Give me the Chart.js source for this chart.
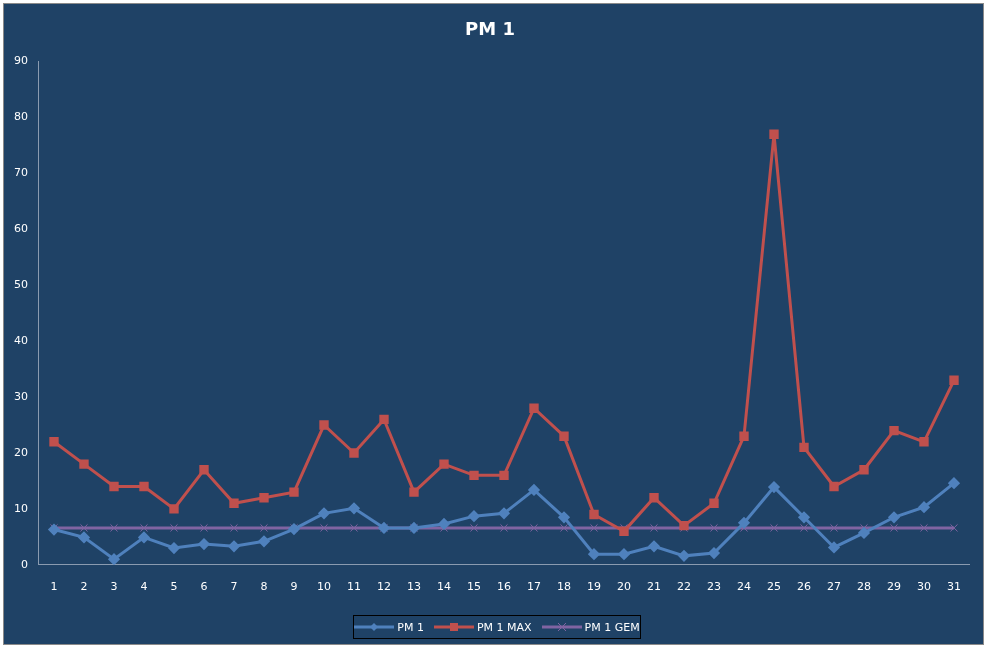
<!DOCTYPE html>
<html>
<head>
<meta charset="utf-8">
<script src="https://cdn.jsdelivr.net/npm/chart.js@4/dist/chart.umd.min.js"></script>
<style>
html, body { margin: 0; padding: 0; background: #ffffff; }
#wrap { position: absolute; left: 3px; top: 3px; width: 979px; height: 640px; background: #1f4266; border: 1px solid #8a8a8a; }
#legendBox { position: absolute; left: 349px; top: 611px; width: 286px; height: 22px; border: 1px solid #000; display: flex; align-items: center; justify-content: center; gap: 10px; color: #fff; font: 11px 'DejaVu Sans'; }
#legendBox span { display: flex; align-items: center; gap: 3px; }
</style>
</head>
<body>
<div id="wrap"><canvas id="pmChart"></canvas><div id="legendBox"></div></div>
<script>
// dagen en meetwaarden
const days = ['1','2','3','4','5','6','7','8','9','10','11','12','13','14','15','16','17','18','19','20','21','22','23','24','25','26','27','28','29','30','31'];
const pm1 = [6.3,4.9,1.0,4.9,3.0,3.7,3.3,4.2,6.4,9.2,10.1,6.6,6.6,7.3,8.7,9.2,13.4,8.5,1.9,1.9,3.3,1.6,2.1,7.5,13.9,8.5,3.1,5.7,8.5,10.3,14.6];
const pm1Max = [22,18,14,14,10,17,11,12,13,25,20,26,13,18,16,16,28,23,9,6,12,7,11,23,77,21,14,17,24,22,33];
const pm1Gem = days.map(() => 6.6);

const txt = '#ffffff';
const font = { family: 'DejaVu Sans', size: 11 };

// eigen legenda, zoals in Excel: lijn met marker
const markers = {
    'PM 1': { color: '#4f81bd', shape: '<polygon points="20,1 24,5 20,9 16,5" fill="#4f81bd"/>' },
    'PM 1 MAX': { color: '#c0504d', shape: '<rect x="16" y="1" width="8" height="8" fill="#c0504d"/>' },
    'PM 1 GEM': { color: '#8064a2', shape: '<path d="M16,1 L24,9 M24,1 L16,9" stroke="#8064a2" stroke-width="1"/>' }
};
const legendBox = document.getElementById('legendBox');
Object.keys(markers).forEach(name => {
    const m = markers[name];
    const item = document.createElement('span');
    item.innerHTML = '<svg width="40" height="10"><line x1="0" y1="5" x2="40" y2="5" stroke="' + m.color + '" stroke-width="3"/>' + m.shape + '</svg>' + name;
    legendBox.appendChild(item);
});

new Chart(document.getElementById('pmChart'), {
    type: 'line',
    data: {
        labels: days,
        datasets: [
            { label: 'PM 1', data: pm1, borderColor: '#4f81bd', backgroundColor: '#4f81bd', borderWidth: 3, pointStyle: 'rectRot', pointRadius: 4, tension: 0 },
            { label: 'PM 1 MAX', data: pm1Max, borderColor: '#c0504d', backgroundColor: '#c0504d', borderWidth: 3, pointStyle: 'rect', pointRadius: 4.5, tension: 0 },
            { label: 'PM 1 GEM', data: pm1Gem, borderColor: '#8064a2', backgroundColor: '#8064a2', borderWidth: 3, pointStyle: 'crossRot', pointRadius: 5, pointBorderWidth: 1, tension: 0 }
        ]
    },
    options: {
        responsive: true,
        maintainAspectRatio: false,
        animation: { duration: 0 },
        layout: { padding: { left: 7, right: 14, top: 0, bottom: 42 } },
        plugins: {
            title: { display: true, text: 'PM 1', color: txt, font: { family: 'DejaVu Sans', size: 18, weight: 'bold' }, padding: { top: 16, bottom: 20 } },
            legend: { display: false }
        },
        scales: {
            x: {
                offset: true,
                grid: { display: false, offset: true },
                border: { color: '#8a9bb0' },
                ticks: { color: txt, font: font, padding: 8 }
            },
            y: {
                min: 0, max: 90,
                grid: { display: false },
                border: { color: '#8a9bb0' },
                ticks: { stepSize: 10, color: txt, font: font }
            }
        }
    }
});
</script>
</body>
</html>
